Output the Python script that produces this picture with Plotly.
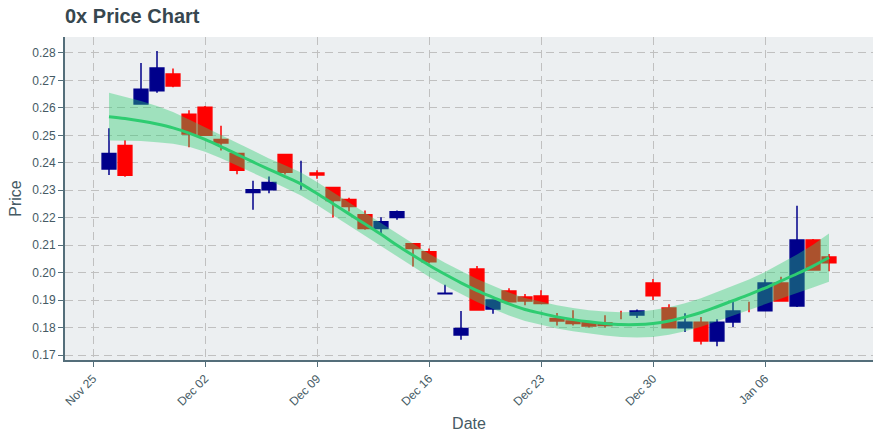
import plotly.graph_objects as go

dates = ["2018-11-26", "2018-11-27", "2018-11-28", "2018-11-29", "2018-11-30",
         "2018-12-01", "2018-12-02", "2018-12-03", "2018-12-04", "2018-12-05",
         "2018-12-06", "2018-12-07", "2018-12-08", "2018-12-09", "2018-12-10",
         "2018-12-11", "2018-12-12", "2018-12-13", "2018-12-14", "2018-12-15",
         "2018-12-16", "2018-12-17", "2018-12-18", "2018-12-19", "2018-12-20",
         "2018-12-21", "2018-12-22", "2018-12-23", "2018-12-24", "2018-12-25",
         "2018-12-26", "2018-12-27", "2018-12-28", "2018-12-29", "2018-12-30",
         "2018-12-31", "2019-01-01", "2019-01-02", "2019-01-03", "2019-01-04",
         "2019-01-05", "2019-01-06", "2019-01-07", "2019-01-08", "2019-01-09",
         "2019-01-10"]

# None = no body drawn on that day (only the high-low wick shows)
open_p = [0.2377, 0.2463, 0.2614, 0.2662, 0.2723, 0.2577, 0.2602, 0.2485, 0.2434, 0.2292,
          0.2302, 0.2430, None, 0.2363, 0.2310, 0.2266, 0.2211, 0.2161, 0.2201, 0.2105,
          0.2076, 0.1923, 0.1773, 0.2013, 0.1868, 0.1933, 0.1911, 0.1915, 0.1833, 0.1824,
          0.1818, 0.1817, None, 0.1846, 0.1962, 0.1871, 0.1799, 0.1819, 0.1751, 0.1820,
          None, 0.1861, 0.1962, 0.1879, 0.2119, 0.2057]
high_p = [0.2526, 0.2482, 0.2763, 0.2807, 0.2743, 0.2591, 0.2607, 0.2535, 0.2437, 0.2335,
          0.2350, 0.2432, 0.2407, 0.2373, 0.2312, 0.2273, 0.2226, 0.2202, 0.2226, 0.2108,
          0.2088, 0.1956, 0.1860, 0.2024, 0.1902, 0.1943, 0.1922, 0.1936, 0.1853, 0.1863,
          0.1823, 0.1845, 0.1861, 0.1866, 0.1977, 0.1885, 0.1852, 0.1839, 0.1830, 0.1893,
          0.1894, 0.1976, 0.1985, 0.2244, 0.2123, 0.2068]
low_p = [0.2356, 0.2349, 0.2612, 0.2655, 0.2675, 0.2457, 0.2498, 0.2445, 0.2358, 0.2229,
         0.2289, 0.2357, 0.2302, 0.2342, 0.2201, 0.2223, 0.2156, 0.2144, 0.2193, 0.2022,
         0.2034, 0.1922, 0.1756, 0.1861, 0.1850, 0.1892, 0.1881, 0.1886, 0.1808, 0.1808,
         0.1800, 0.1800, 0.1830, 0.1835, 0.1900, 0.1797, 0.1784, 0.1738, 0.1732, 0.1802,
         0.1856, 0.1860, 0.1895, 0.1875, 0.2008, 0.2005]
close_p = [0.2434, 0.2355, 0.2668, 0.2745, 0.2680, 0.2505, 0.2500, 0.2472, 0.2373, 0.2302,
           0.2328, 0.2366, None, 0.2356, 0.2263, 0.2241, 0.2161, 0.2185, 0.2222, 0.2088,
           0.2040, 0.1925, 0.1797, 0.1864, 0.1900, 0.1894, 0.1897, 0.1888, 0.1824, 0.1815,
           0.1806, 0.1808, None, 0.1860, 0.1916, 0.1799, 0.1819, 0.1751, 0.1819, 0.1860,
           None, 0.1962, 0.1897, 0.2119, 0.2010, 0.2036]

# days that show only a wick, by colour
wick_only_up = ["2018-12-08"]
wick_only_down = ["2018-12-28", "2019-01-05"]

trend = [0.2568, 0.2561, 0.2552, 0.2541, 0.2527, 0.2508, 0.2485, 0.2459, 0.2431, 0.2403,
         0.2376, 0.2350, 0.2323, 0.2288, 0.2251, 0.2214, 0.2177, 0.2140, 0.2100, 0.2063,
         0.2027, 0.1994, 0.1963, 0.1935, 0.1910, 0.1886, 0.1866, 0.1852, 0.1839, 0.1829,
         0.1821, 0.1815, 0.1811, 0.1811, 0.1815, 0.1824, 0.1838, 0.1855, 0.1876, 0.1898,
         0.1920, 0.1944, 0.1970, 0.1996, 0.2024, 0.2055]
band_half = [0.0087, 0.0080, 0.0073, 0.0066, 0.0058, 0.0050, 0.0045, 0.0042, 0.0040, 0.0040,
             0.0040, 0.0041, 0.0042, 0.0042, 0.0042, 0.0042, 0.0042, 0.0042, 0.0042, 0.0042,
             0.0042, 0.0042, 0.0042, 0.0042, 0.0042, 0.0042, 0.0042, 0.0042, 0.0042, 0.0042,
             0.0042, 0.0044, 0.0045, 0.0047, 0.0049, 0.0050, 0.0051, 0.0052, 0.0053, 0.0054,
             0.0055, 0.0058, 0.0063, 0.0070, 0.0078, 0.0088]

y_ticks = [0.17, 0.18, 0.19, 0.20, 0.21, 0.22, 0.23, 0.24, 0.25, 0.26, 0.27, 0.28]

upper = [t + h for t, h in zip(trend, band_half)]
lower = [t - h for t, h in zip(trend, band_half)]

FONT = "Liberation Sans, Arial, sans-serif"
AXIS_COL = "#546E7A"
TEXT_COL = "#455A64"
GREEN = "#2ECC71"
UP_COL = "#00008B"
DOWN_COL = "#FF0000"


def wick_xy(days):
    xs, ys = [], []
    for d in days:
        i = dates.index(d)
        xs += [d, d, None]
        ys += [low_p[i], high_p[i], None]
    return xs, ys


fig = go.Figure()
fig.add_trace(go.Candlestick(
    x=dates, open=open_p, high=high_p, low=low_p, close=close_p,
    increasing=dict(line=dict(color=UP_COL, width=1.5), fillcolor=UP_COL),
    decreasing=dict(line=dict(color=DOWN_COL, width=1.5), fillcolor=DOWN_COL),
    whiskerwidth=0, showlegend=False, name="0x"))
for days, col in ((wick_only_up, UP_COL), (wick_only_down, DOWN_COL)):
    wx, wy = wick_xy(days)
    fig.add_trace(go.Scatter(x=wx, y=wy, mode="lines", line=dict(color=col, width=1.5),
                             showlegend=False, hoverinfo="skip"))
fig.add_trace(go.Scatter(x=dates, y=lower, mode="lines", line=dict(width=0),
                         showlegend=False, hoverinfo="skip"))
fig.add_trace(go.Scatter(x=dates, y=upper, mode="lines", line=dict(width=0),
                         fill="tonexty", fillcolor="rgba(46,204,113,0.4)",
                         showlegend=False, hoverinfo="skip"))
fig.add_trace(go.Scatter(x=dates, y=trend, mode="lines",
                         line=dict(color=GREEN, width=3, shape="spline"),
                         showlegend=False))

axis_common = dict(
    showgrid=True, gridcolor="#C0C0C0", gridwidth=1, griddash="8px,5px",
    showline=True, linecolor=AXIS_COL, linewidth=2,
    ticks="outside", ticklen=5, tickcolor=AXIS_COL, tickwidth=1,
    tickfont=dict(family=FONT, size=12, color=TEXT_COL),
    zeroline=False,
)

fig.update_layout(
    width=880, height=440,
    paper_bgcolor="white", plot_bgcolor="#ECEFF1",
    margin=dict(l=65, r=7, t=37, b=80),
    boxgap=0.14, boxgroupgap=0,
    font=dict(family=FONT, color=TEXT_COL),
    title=dict(text="<b>0x Price Chart</b>", x=65 / 880, xanchor="left",
               y=1 - 16 / 440, yanchor="middle",
               font=dict(family=FONT, size=20, color="#37474F")),
    xaxis=dict(axis_common, range=["2018-11-23 06:00", "2019-01-12 18:00"],
               tick0="2018-11-25", dtick=7 * 86400000, tickformat="%b %d",
               tickangle=-45, rangeslider=dict(visible=False),
               title=dict(text="Date", standoff=10,
                          font=dict(family=FONT, size=16, color=TEXT_COL))),
    yaxis=dict(axis_common, range=[0.1682, 0.2858], tickvals=y_ticks, tickformat=".2f",
               title=dict(text="Price", standoff=7,
                          font=dict(family=FONT, size=16, color=TEXT_COL))),
)

fig.write_html("out.html", config={"displayModeBar": False},
               post_script="document.body.style.margin='0';")
